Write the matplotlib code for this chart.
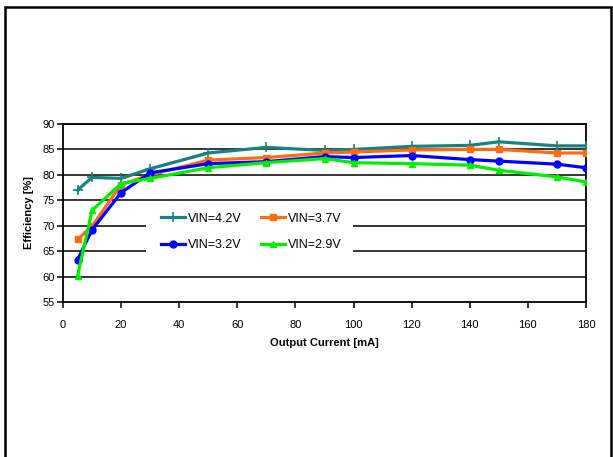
import matplotlib
matplotlib.use("Agg")
import matplotlib.pyplot as plt
from matplotlib.patches import Rectangle

plt.rcParams['font.family'] = ['Liberation Sans', 'DejaVu Sans']

current = [5, 10, 20, 30, 50, 70, 90, 100, 120, 140, 150, 170, 180]
eff_42 = [77.0, 79.5, 79.3, 81.2, 84.3, 85.4, 84.8, 85.0, 85.6, 85.8, 86.5, 85.7, 85.7]
eff_37 = [67.3, 69.9, 78.1, 80.0, 82.9, 83.4, 84.3, 84.5, 84.9, 85.0, 85.0, 84.3, 84.3]
eff_32 = [63.3, 69.2, 76.5, 80.4, 82.2, 82.6, 83.6, 83.4, 83.8, 83.0, 82.7, 82.1, 81.4]
eff_29 = [60.1, 73.0, 78.3, 79.3, 81.4, 82.4, 83.2, 82.4, 82.2, 81.9, 80.9, 79.6, 78.6]
labels = ['VIN=4.2V', 'VIN=3.7V', 'VIN=3.2V', 'VIN=2.9V']
xticks = list(range(0, 181, 20))
yticks = list(range(55, 91, 5))

W, H = 613, 457
fig = plt.figure(figsize=(W / 100, H / 100), dpi=100)

# outer border
fig.add_artist(Rectangle((5 / W, -0.05), (611 - 5) / W, 1.05 - 6.5 / H,
                         transform=fig.transFigure, fill=False,
                         edgecolor='black', linewidth=1.8))

ax = fig.add_axes([63 / W, 1 - 302 / H, (586 - 63) / W, (302 - 124) / H])
ax.set_xlim(0, 180)
ax.set_ylim(55, 90)
ax.set_xticks(xticks)
ax.set_yticks(yticks)
for y in yticks[1:]:
    ax.axhline(y, color='black', linewidth=1.1, zorder=1)

# white area behind legend (gridlines are hidden there)
ax.add_patch(Rectangle((0.159, 0.25), 0.395, 0.29, transform=ax.transAxes,
                       facecolor='white', edgecolor='none', zorder=2))

lw = 2.3
l42, = ax.plot(current, eff_42, color='#168282', lw=lw, marker='+', ms=7, mew=1.2,
               label=labels[0], zorder=3)
l37, = ax.plot(current, eff_37, color='#FF6A13', lw=lw, marker='s', ms=5,
               label=labels[1], zorder=3)
l32, = ax.plot(current, eff_32, color='#0000FF', lw=lw, marker='o', ms=5,
               label=labels[2], zorder=3)
l29, = ax.plot(current, eff_29, color='#00F000', lw=lw, marker='^', ms=5,
               label=labels[3], zorder=3)

for s in ax.spines.values():
    s.set_linewidth(1.3)
    s.set_color('black')
ax.tick_params(axis='both', direction='out', length=4, width=1.1, labelsize=8)
ax.tick_params(axis='x', pad=9)
ax.tick_params(axis='y', pad=2)
ax.set_xlabel('Output Current [mA]', fontsize=8, fontweight='bold', labelpad=6)
ax.set_ylabel('Efficiency [%]', fontsize=8, fontweight='bold', labelpad=6)

handles = [l42, l32, l37, l29]
leg = ax.legend(handles, [h.get_label() for h in handles],
                loc='center', bbox_to_anchor=(0.36, 0.395), ncol=2,
                frameon=False, fontsize=9, handlelength=1.9,
                handletextpad=0.2, columnspacing=1.6, labelspacing=1.15,
                numpoints=1)
leg.set_zorder(4)

fig.savefig('out.png', dpi=100)
